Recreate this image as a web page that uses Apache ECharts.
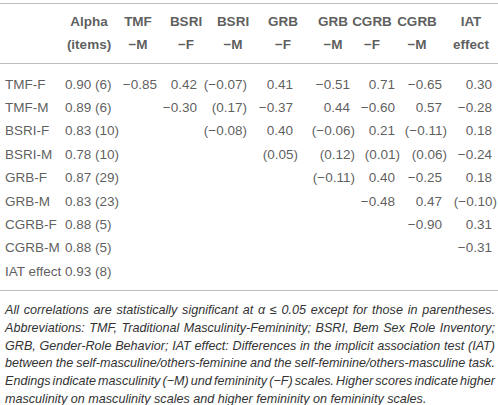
<!DOCTYPE html>
<html><head><meta charset="utf-8">
<script src="https://cdn.jsdelivr.net/npm/echarts@6/dist/echarts.min.js"></script>
<style>html,body{margin:0;padding:0;background:#fff}#c{width:498px;height:405px}</style>
</head><body><div id="c"></div>
<script>
// ---------- data ----------
const rowLabels = ['TMF-F','TMF-M','BSRI-F','BSRI-M','GRB-F','GRB-M','CGRB-F','CGRB-M','IAT effect'];
const headerTop = ['Alpha','TMF','BSRI','BSRI','GRB','GRB','CGRB','CGRB','IAT'];
const headerBottom = ['(items)','\u2212M','\u2212F','\u2212M','\u2212F','\u2212M','\u2212F','\u2212M','effect'];
const colKeys = ['TMF-M','BSRI-F','BSRI-M','GRB-F','GRB-M','CGRB-F','CGRB-M','IAT effect'];
const alpha = [0.90,0.89,0.83,0.78,0.87,0.83,0.88,0.88,0.93];
const items = [6,6,10,10,29,23,5,5,8];
const corrTMF_F  = [-0.85, 0.42, -0.07, 0.41, -0.51, 0.71, -0.65, 0.30];
const corrTMF_M  = [null, -0.30, 0.17, -0.37, 0.44, -0.60, 0.57, -0.28];
const corrBSRI_F = [null, null, -0.08, 0.40, -0.06, 0.21, -0.11, 0.18];
const corrBSRI_M = [null, null, null, 0.05, 0.12, 0.01, 0.06, -0.24];
const corrGRB_F  = [null, null, null, null, -0.11, 0.40, -0.25, 0.18];
const corrGRB_M  = [null, null, null, null, null, -0.48, 0.47, -0.10];
const corrCGRB_F = [null, null, null, null, null, null, -0.90, 0.31];
const corrCGRB_M = [null, null, null, null, null, null, null, -0.31];
const corrIAT    = [null, null, null, null, null, null, null, null];
const nonSignificant = [['TMF-F','BSRI-M'],['TMF-M','BSRI-M'],['BSRI-F','BSRI-M'],['BSRI-F','GRB-M'],
  ['BSRI-F','CGRB-M'],['BSRI-M','GRB-F'],['BSRI-M','GRB-M'],['BSRI-M','CGRB-F'],['BSRI-M','CGRB-M'],
  ['GRB-F','GRB-M'],['GRB-M','IAT effect']];
const footnote = [
  'All correlations are statistically significant at \u03b1 \u2264 0.05 except for those in parentheses.',
  'Abbreviations: TMF, Traditional Masculinity-Femininity; BSRI, Bem Sex Role Inventory;',
  'GRB, Gender-Role Behavior; IAT effect: Differences in the implicit association test (IAT)',
  'between the self-masculine/others-feminine and the self-feminine/others-masculine task.',
  'Endings indicate masculinity (\u2212M) und femininity (\u2212F) scales. Higher scores indicate higher',
  'masculinity on masculinity scales and higher femininity on femininity scales.'
];
const corrRows = [corrTMF_F, corrTMF_M, corrBSRI_F, corrBSRI_M, corrGRB_F, corrGRB_M, corrCGRB_F, corrCGRB_M, corrIAT];

// ---------- layout ----------
const W = 498, H = 405;
const FONT = "'Liberation Sans', Arial, Helvetica, sans-serif";
const TXT = '#333';
const TABLE_SIZE = 13.5;
const L = {
  rowLabelX: 5, alphaX: 65,
  colRight: [157, 197, 242, 293, 350, 395, 442, 492], parenHang: 5,
  headerX: [89, 138, 186, 233, 283, 333, 372, 417, 471], headerY1: 21, headerY2: 44,
  rowY0: 84, rowStep: 23.4,
  rules: [3.5, 63.5, 290.5],
  footY0: 310, footStep: 17.8, footLeft: 5, footRight: 495
};

function fmt(v) { return (v < 0 ? '\u2212' : '') + Math.abs(v).toFixed(2); }
function isNonSig(r, c) { return nonSignificant.some(p => p[0] === r && p[1] === c); }

const leftCells = [], rightCells = [], headCells = [];
rowLabels.forEach((lab, i) => {
  const y = L.rowY0 + i * L.rowStep;
  leftCells.push([L.rowLabelX, y, lab]);
  leftCells.push([L.alphaX, y, alpha[i].toFixed(2) + ' (' + items[i] + ')']);
  corrRows[i].forEach((v, j) => {
    if (v === null) return;
    const ns = isNonSig(lab, colKeys[j]);
    const t = ns ? '(' + fmt(v) + ')' : fmt(v);
    rightCells.push([L.colRight[j] + (ns ? L.parenHang : 0), y, t]);
  });
});
headerTop.forEach((h, j) => {
  headCells.push([L.headerX[j], L.headerY1, h]);
  headCells.push([L.headerX[j], L.headerY2, headerBottom[j]]);
});

function textSeries(name, data, align, weight) {
  return {
    name, type: 'scatter', data, symbolSize: 0, silent: true,
    label: {
      show: true, position: 'inside', align, verticalAlign: 'middle',
      formatter: p => p.data[2], color: TXT, fontFamily: FONT, fontSize: TABLE_SIZE, fontWeight: weight
    }
  };
}

// footnote: justified words; font size chosen so the tightest line still fits
const ctx = document.createElement('canvas').getContext('2d');
const avail = L.footRight - L.footLeft;
let footSize = 13;
for (; footSize > 10; footSize -= 0.1) {
  ctx.font = 'italic ' + footSize + 'px ' + FONT;
  const sp = ctx.measureText(' ').width;
  const ok = footnote.every(line => {
    const words = line.split(' ');
    const sum = words.reduce((a, w) => a + ctx.measureText(w).width, 0);
    return sum + (words.length - 1) * sp * 0.55 <= avail;
  });
  if (ok) break;
}
ctx.font = 'italic ' + footSize + 'px ' + FONT;
const graphics = [];
footnote.forEach((line, k) => {
  const y = L.footY0 + k * L.footStep;
  const words = line.split(' ');
  const last = k === footnote.length - 1;
  const widths = words.map(w => ctx.measureText(w).width);
  const sum = widths.reduce((a, b) => a + b, 0);
  const gap = last ? ctx.measureText(' ').width : (avail - sum) / (words.length - 1);
  let x = L.footLeft;
  words.forEach((w, i) => {
    graphics.push({ type: 'text', x, y, silent: true,
      style: { text: w, font: 'italic ' + footSize + 'px ' + FONT, fill: TXT, verticalAlign: 'middle' } });
    x += widths[i] + gap;
  });
});

const chart = echarts.init(document.getElementById('c'), null, { renderer: 'svg' });
chart.setOption({
  animation: false,
  backgroundColor: '#fff',
  grid: { left: 0, right: 0, top: 0, bottom: 0 },
  xAxis: { type: 'value', min: 0, max: W, show: false },
  yAxis: { type: 'value', min: 0, max: H, inverse: true, show: false },
  series: [
    Object.assign(textSeries('left', leftCells, 'left', 'normal'), {
      markLine: { silent: true, symbol: 'none', label: { show: false },
        lineStyle: { color: '#bdbdbd', width: 1, type: 'solid' },
        data: L.rules.map(r => ({ yAxis: r })) }
    }),
    textSeries('right', rightCells, 'right', 'normal'),
    textSeries('head', headCells, 'center', 'bold')
  ],
  graphic: graphics
});
</script>
</body></html>
